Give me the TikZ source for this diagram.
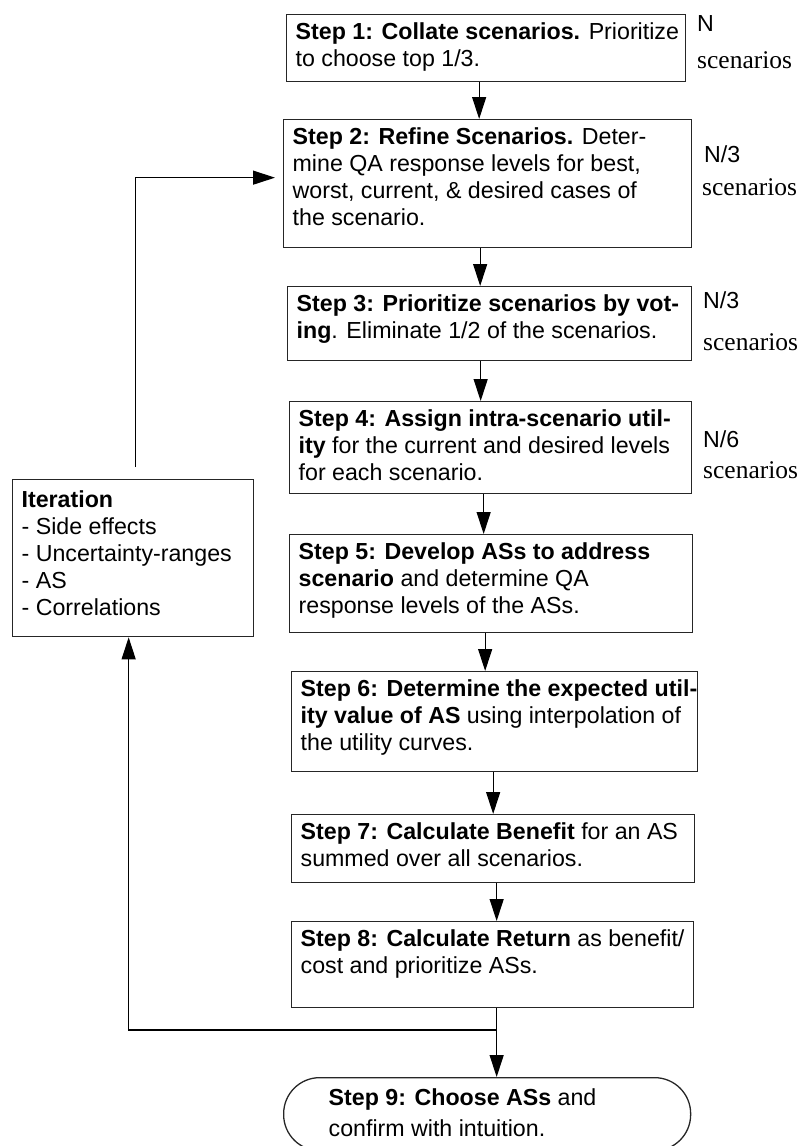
\documentclass[tikz,border=0pt]{standalone}
\usepackage{fontspec}
\setmainfont{Liberation Sans}
\newfontfamily\serifnote{Liberation Serif}
\usetikzlibrary{arrows.meta}

% fixed-size box text: width, height, lines
\newcommand{\boxlines}[3]{\parbox[c][#2][t]{#1}{\begin{tabular}[t]{@{}l@{}}#3\end{tabular}}}

\begin{document}
\begin{tikzpicture}[x=1pt, y=-1pt,
    font=\fontsize{23.2}{27}\selectfont,
    stepbox/.style={draw=black!85, line width=1.3pt, anchor=north west, inner xsep=9pt, inner ysep=6pt},
    endbox/.style={stepbox, rounded corners=36pt, inner xsep=45pt, inner ysep=9pt},
    flow/.style={line width=1.2pt, -{Triangle[length=22pt, width=14pt]}},
    count/.style={anchor=base west, inner sep=0pt},
    scen/.style={anchor=base west, inner sep=0pt, font=\serifnote\fontsize{25.5}{27}\selectfont}
  ]
  \useasboundingbox (0,0) rectangle (803,1146);
  \clip (0,0) rectangle (803,1146);

  % steps
  \node[stepbox] (s1) at (286,14) {\boxlines{381pt}{55pt}{\textbf{Step 1: Collate scenarios.} Prioritize\\ to choose top 1/3.}};
  \node[stepbox] (s2) at (283,119) {\boxlines{390pt}{116pt}{\textbf{Step 2: Refine Scenarios.} Deter-\\ mine QA response levels for best,\\ worst, current, \& desired cases of\\ the scenario.}};
  \node[stepbox] (s3) at (287,286) {\boxlines{386pt}{62pt}{\textbf{Step 3: Prioritize scenarios by vot-}\\ \textbf{ing}. Eliminate 1/2 of the scenarios.}};
  \node[stepbox] (s4) at (289,401) {\boxlines{384pt}{80pt}{\textbf{Step 4: Assign intra-scenario util-}\\ \textbf{ity} for the current and desired levels\\ for each scenario.}};
  \node[stepbox] (s5) at (289,534) {\boxlines{385pt}{86pt}{\textbf{Step 5: Develop ASs to address}\\ \textbf{scenario} and determine QA\\ response levels of the ASs.}};
  \node[stepbox] (s6) at (291,671) {\boxlines{388pt}{88pt}{\textbf{Step 6: Determine the expected util-}\\ \textbf{ity value of AS} using interpolation of\\ the utility curves.}};
  \node[stepbox] (s7) at (291,814) {\boxlines{385pt}{56pt}{\textbf{Step 7: Calculate Benefit} for an AS\\ summed over all scenarios.}};
  \node[stepbox] (s8) at (291,921) {\boxlines{384pt}{74pt}{\textbf{Step 8: Calculate Return} as benefit/\\ cost and prioritize ASs.}};
  \node[endbox] (s9) at (283,1077) {\boxlines{317pt}{55pt}{\textbf{Step 9: Choose ASs} and\\[4pt] confirm with intuition.}};
  \node[stepbox, inner ysep=9pt] (iter) at (12,479) {\boxlines{223pt}{139pt}{\textbf{Iteration}\\ - Side effects\\ - Uncertainty-ranges\\ - AS\\ - Correlations}};

  % scenario counts
  \node[count] (n1) at (697,31) {N};
  \node[scen] (c1) at (697,68) {scenarios};
  \node[count] (n2) at (704,162) {N/3};
  \node[scen] (c2) at (702,195) {scenarios};
  \node[count] (n3) at (703,308) {N/3};
  \node[scen] (c3) at (703,350) {scenarios};
  \node[count] (n4) at (703,447) {N/6};
  \node[scen] (c4) at (703,478) {scenarios};

  % main flow
  \draw[flow] ([xshift=-7pt]s1.south) -- ([xshift=-7pt]s1.south |- s2.north);
  \draw[flow] ([xshift=-7.5pt]s2.south) -- ([xshift=-7.5pt]s2.south |- s3.north);
  \draw[flow] ([xshift=-9pt]s3.south) -- ([xshift=-9pt]s3.south |- s4.north);
  \draw[flow] ([xshift=-7pt]s4.south) -- ([xshift=-7pt]s4.south |- s5.north);
  \draw[flow] ([xshift=-6pt]s5.south) -- ([xshift=-6pt]s5.south |- s6.north);
  \draw[flow] ([xshift=-1.5pt]s6.south) -- ([xshift=-1.5pt]s6.south |- s7.north);
  \draw[flow] ([xshift=3.5pt]s7.south) -- ([xshift=3.5pt]s7.south |- s8.north);
  \draw[flow] ([xshift=4pt]s8.south) -- ([xshift=4pt]s8.south |- s9.north);

  % iteration loop
  \coordinate (fork) at (496,1030);
  \draw[flow] (fork) -| ([xshift=-4.5pt]iter.south);
  \draw[flow] ([xshift=2.5pt, yshift=12pt]iter.north) |- ([xshift=-8pt, yshift=6pt]s2.west);
\end{tikzpicture}
\end{document}
